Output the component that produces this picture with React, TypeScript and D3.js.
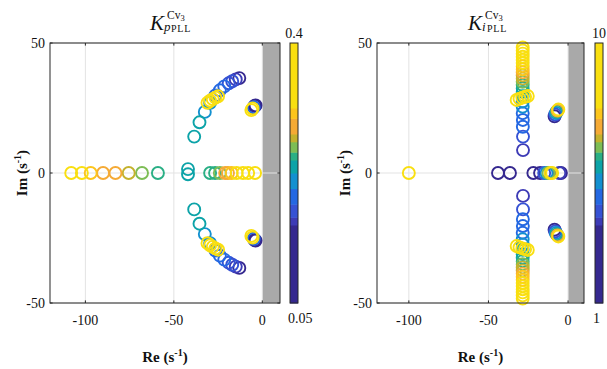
import React from 'react'
import * as d3 from 'd3'

// axes limits and ticks (same for both panels)
const xDomain = [-120, 10]
const yDomain = [-50, 50]
const xTicks = [-100, -50, 0]
const yTicks = [-50, 0, 50]
const xTickLabels = ['-100', '-50', '0']
const yTickLabels = ['-50', '0', '50']
const unstableFrom = 0

// colour bars
const kpRange = [0.05, 0.4]
const kiRange = [1, 10]
const kpBarLabels = ['0.4', '0.05']
const kiBarLabels = ['10', '1']

// stepped colormap, bottom -> top
const cmapStops = [0.30, 0.33, 0.38, 0.44, 0.50, 0.55, 0.58, 0.62, 0.65, 0.71, 0.75]
const cmapColors = ['#35288f', '#3d3bb6', '#3652d4', '#2468e2', '#1390d0', '#0ca3a8',
  '#2aaf85', '#7dbd55', '#c4b22d', '#f5aa35', '#fcc51c', '#f9df10']

// [Re, Im, K]  left panel, K_p
const kpFarReal = [[-108, 0, 0.383], [-102, 0, 0.365], [-97, 0, 0.302], [-90, 0, 0.288],
  [-83, 0, 0.281], [-75.5, 0, 0.271], [-68, 0, 0.26], [-59, 0, 0.246]]
const kpMidReal = [[-42, 1.5, 0.236], [-42, -0.5, 0.237]]
const kpNearReal = [[-29.5, 0, 0.246], [-26.7, 0, 0.25], [-24, 0, 0.26], [-21, 0, 0.295],
  [-19.4, 0, 0.285], [-17.3, 0, 0.302], [-14.5, 0, 0.323], [-10.9, 0, 0.358],
  [-8, 0, 0.376], [-4.1, 0, 0.39]]
const kpBranch = [[-38.5, 14, 0.232], [-35.5, 19.5, 0.226], [-32.5, 23.5, 0.215],
  [-29.5, 27, 0.208], [-26.5, 29.8, 0.2], [-24, 31.8, 0.194], [-21.5, 33.3, 0.187],
  [-19, 34.5, 0.176], [-17, 35.3, 0.169], [-15, 36, 0.159], [-13, 36.5, 0.12]]
const kpYellow = [[-31, 27, 0.33], [-29.5, 27.8, 0.348], [-28, 28.4, 0.365],
  [-26.5, 29, 0.383], [-25, 29.5, 0.4]]
const kpSlow = [[-3.8, 26, 0.085], [-4.3, 25.8, 0.138], [-4.8, 25.3, 0.19],
  [-5.5, 24.8, 0.316], [-6.2, 24.2, 0.383]]

// right panel, K_i
const kiFarReal = [[-100, 0, 10]]
const kiReal = [[-44, 0, 2.8], [-36.5, 0, 3.0], [-21.8, 0, 3.25], [-17.6, 0, 3.5],
  [-15, 0, 4.25], [-13.5, 0, 5.05], [-12.3, 0, 6.4], [-11, 0, 8.2], [-10, 0, 9.55],
  [-4.5, 0, 2.35], [-5.5, 0, 3.75]]
const kiColumn = [[-28.3, 8.8, 3.8], [-28.3, 14, 4.15], [-28.4, 17.8, 4.42],
  [-28.4, 20.4, 4.69], [-28.5, 23, 4.87], [-28.5, 25.5, 5.14], [-28.5, 27.5, 5.32],
  [-28.5, 29.5, 5.55], [-28.5, 31.2, 5.68], [-28.5, 32.6, 5.86], [-28.5, 33.9, 6.04],
  [-28.5, 35.1, 6.31], [-28.5, 36.3, 6.58], [-28.5, 37.5, 6.85], [-28.5, 38.7, 7.12],
  [-28.5, 39.9, 7.39], [-28.5, 41.1, 7.66], [-28.5, 42.3, 8.02], [-28.5, 43.5, 8.38],
  [-28.5, 44.7, 8.74], [-28.5, 45.9, 9.1], [-28.5, 47.1, 9.55], [-28.5, 48.3, 10]]
const kiYellow = [[-32.3, 28.1, 8.65], [-30.5, 28.6, 9.1], [-28.7, 29, 9.55],
  [-27, 29.3, 9.7], [-25.3, 29.6, 10]]
const kiSlow = [[-8.5, 21.8, 2.8], [-8.1, 22.5, 4.25], [-7.6, 23.1, 5.05],
  [-7.1, 23.6, 6.05], [-6.6, 24, 7.3], [-6.1, 24.4, 9.1]]

const mirror = (pts) => pts.concat(pts.map(([re, im, k]) => [re, -im, k]))

const kpPoints = [...kpFarReal, ...kpMidReal, ...kpNearReal, ...mirror([...kpBranch, ...kpYellow, ...kpSlow])]
const kiPoints = [...kiFarReal, ...kiReal, ...mirror([...kiColumn, ...kiYellow, ...kiSlow])]

const TOP = 43
const BOTTOM = 303
const FONT = '"Liberation Serif", "Times New Roman", serif'
const AXIS = '#262626'

const color = d3.scaleThreshold<number, string>().domain(cmapStops).range(cmapColors)

const Panel = ({ left, right, cbx, points, range, barLabels, imX }) => {
  const x = d3.scaleLinear().domain(xDomain).range([left, right])
  const y = d3.scaleLinear().domain(yDomain).range([BOTTOM, TOP])
  const level = d3.scaleLinear().domain(range).range([0, 1])
  const bar = d3.scaleLinear().domain([0, 1]).range([BOTTOM, TOP])
  const bins = [0, ...cmapStops, 1]
  const sorted = [...points].sort((a, b) => a[2] - b[2])
  const tick = 2.6
  const cx = (left + right) / 2

  return (
    <g>
      <rect x={left} y={TOP} width={right - left} height={BOTTOM - TOP} fill="#fff" />
      <rect x={x(unstableFrom)} y={TOP} width={x(xDomain[1]) - x(unstableFrom)}
        height={BOTTOM - TOP} fill="#a9a9a9" />
      {xTicks.map(t => (
        <line key={'gx' + t} x1={x(t)} x2={x(t)} y1={TOP} y2={BOTTOM} stroke="#e3e3e3" strokeWidth={1} />
      ))}
      {yTicks.map(t => (
        <line key={'gy' + t} x1={left} x2={right} y1={y(t)} y2={y(t)} stroke="#e3e3e3" strokeWidth={1} />
      ))}
      {sorted.map((p, i) => (
        <circle key={i} cx={x(p[0])} cy={y(p[1])} r={6} fill="none"
          stroke={color(level(p[2]))} strokeWidth={1.9} />
      ))}
      <rect x={left} y={TOP} width={right - left} height={BOTTOM - TOP} fill="none" stroke={AXIS} strokeWidth={1} />
      {xTicks.map((t, i) => (
        <g key={'tx' + t}>
          <line x1={x(t)} x2={x(t)} y1={BOTTOM} y2={BOTTOM - tick} stroke={AXIS} />
          <line x1={x(t)} x2={x(t)} y1={TOP} y2={TOP + tick} stroke={AXIS} />
          <text x={x(t)} y={325} textAnchor="middle" fontSize={14} fontFamily={FONT} fill="#111">{xTickLabels[i]}</text>
        </g>
      ))}
      {yTicks.map((t, i) => (
        <g key={'ty' + t}>
          <line x1={left} x2={left + tick} y1={y(t)} y2={y(t)} stroke={AXIS} />
          <line x1={right} x2={right - tick} y1={y(t)} y2={y(t)} stroke={AXIS} />
          <text x={left - 5} y={y(t) + 5} textAnchor="end" fontSize={14} fontFamily={FONT} fill="#111">{yTickLabels[i]}</text>
        </g>
      ))}
      <text x={cx} y={362} textAnchor="middle" fontSize={15} fontWeight="bold" fontFamily={FONT} fill="#111">
        Re (s<tspan dy={-6} fontSize={10}>-1</tspan><tspan dy={6}>)</tspan>
      </text>
      <text transform={`translate(${imX},${(TOP + BOTTOM) / 2}) rotate(-90)`} textAnchor="middle"
        fontSize={15} fontWeight="bold" fontFamily={FONT} fill="#111">
        Im (s<tspan dy={-6} fontSize={10}>-1</tspan><tspan dy={6}>)</tspan>
      </text>
      {bins.slice(0, -1).map((b, i) => (
        <rect key={'cb' + i} x={cbx} y={bar(bins[i + 1])} width={8}
          height={bar(b) - bar(bins[i + 1]) + 0.5} fill={cmapColors[i]} />
      ))}
      <rect x={cbx} y={TOP} width={8} height={BOTTOM - TOP} fill="none" stroke={AXIS} strokeWidth={1} />
      <text x={cbx + 4} y={38} textAnchor="middle" fontSize={14} fontFamily={FONT} fill="#111">{barLabels[0]}</text>
      <text x={cbx - 2} y={323} textAnchor="start" fontSize={14} fontFamily={FONT} fill="#111">{barLabels[1]}</text>
    </g>
  )
}

const Title = ({ x, sub }) => (
  <g fontFamily={FONT} fill="#111">
    <text x={x} y={30} fontSize={21} fontStyle="italic">K</text>
    <text x={x + 17} y={19} fontSize={11.5}>Cv<tspan dy={2} fontSize={8.5}>3</tspan></text>
    <text x={x + 14} y={31} fontSize={13} fontStyle="italic">{sub}</text>
    <text x={x + (sub === 'p' ? 21 : 19)} y={32} fontSize={10} letterSpacing={0.8}>PLL</text>
  </g>
)

export default function App() {
  return (
    <svg width={607} height={369} style={{ position: 'absolute', left: 0, top: 0, background: '#fff' }}>
      <Panel left={50} right={280} cbx={290} points={kpPoints} range={kpRange}
        barLabels={kpBarLabels} imX={27} />
      <Panel left={377} right={584} cbx={595} points={kiPoints} range={kiRange}
        barLabels={kiBarLabels} imX={350} />
      <Title x={150} sub="p" />
      <Title x={468} sub="i" />
    </svg>
  )
}
